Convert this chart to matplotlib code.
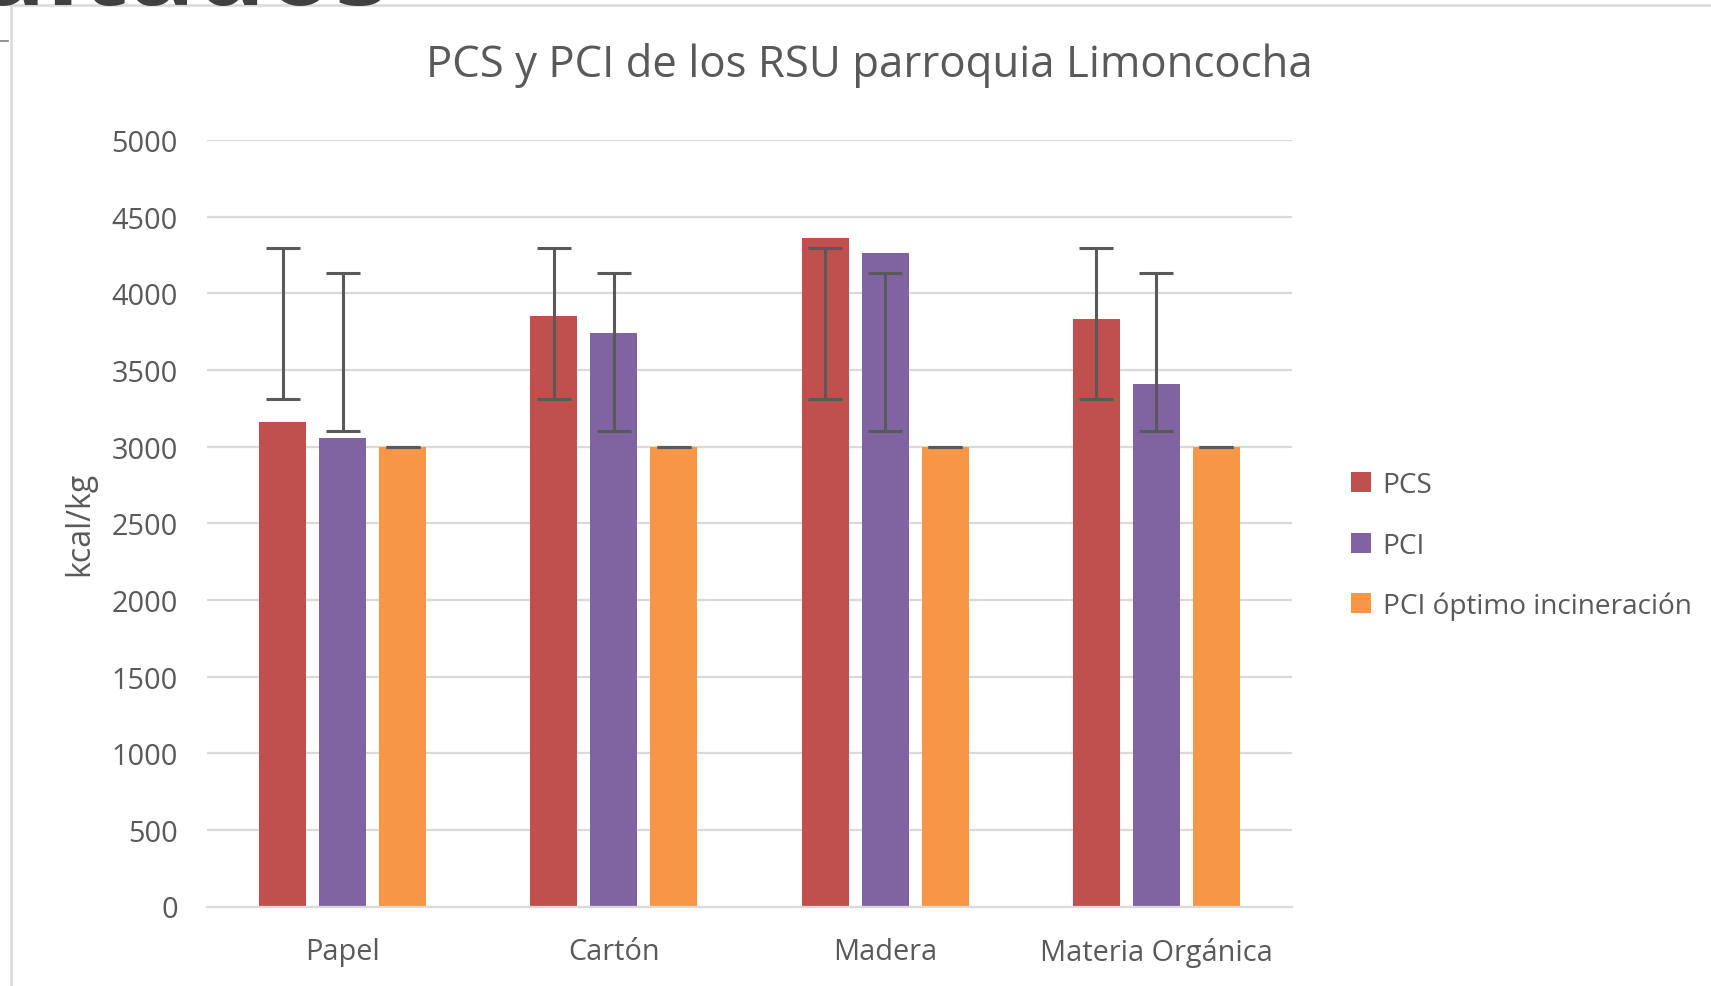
import numpy as np
import matplotlib.pyplot as plt

plt.rcParams['font.family'] = ['Open Sans', 'DejaVu Sans']

# Datos
categorias = ['Papel', 'Cartón', 'Madera', 'Materia Orgánica']
series = ['PCS', 'PCI', 'PCI óptimo incineración']
pcs = [3158, 3855, 4362, 3834]
pci = [3054, 3741, 4260, 3407]
pci_optimo = [3000, 3000, 3000, 3000]

# Barras de error (límite inferior y superior)
pcs_err_bajo = [3308, 3308, 3308, 3308]
pcs_err_alto = [4297, 4297, 4297, 4297]
pci_err_bajo = [3103, 3103, 3103, 3103]
pci_err_alto = [4130, 4130, 4130, 4130]
opt_err_bajo = [3000, 3000, 3000, 3000]
opt_err_alto = [3000, 3000, 3000, 3000]

colores = ['#C0504D', '#8064A2', '#F79646']
gris = '#595959'
tam = 20.8

fig = plt.figure(figsize=(17.11, 9.87), dpi=100)
ax = fig.add_axes([207 / 1711, 1 - 907.5 / 987, 1085 / 1711, (907.5 - 141) / 987])

x = np.arange(len(categorias))
paso = 0.221
ancho = 0.173
valores = [pcs, pci, pci_optimo]
errores = [(pcs_err_bajo, pcs_err_alto), (pci_err_bajo, pci_err_alto),
           (opt_err_bajo, opt_err_alto)]

for i, (vals, (lo, hi)) in enumerate(zip(valores, errores)):
    pos = x + (i - 1) * paso
    ax.bar(pos, vals, ancho, color=colores[i], label=series[i], zorder=2)
    lo = np.array(lo)
    hi = np.array(hi)
    ax.errorbar(pos, (lo + hi) / 2, yerr=(hi - lo) / 2, fmt='none',
                ecolor=gris, elinewidth=2.2, capsize=12, capthick=2.2, zorder=3)

ax.set_xlim(-0.5, len(categorias) - 0.5)
ax.set_ylim(0, 5000)
ax.set_yticks(np.arange(0, 5001, 500))
ax.yaxis.grid(True, color='#d9d9d9', linewidth=1.6, zorder=0)
ax.set_axisbelow(True)
for s in ['top', 'right', 'left']:
    ax.spines[s].set_visible(False)
ax.spines['bottom'].set_color('#d9d9d9')
ax.spines['bottom'].set_linewidth(1.6)

ax.set_xticks(x)
ax.set_xticklabels(categorias)
ax.tick_params(axis='both', length=0, labelsize=tam, colors=gris)
ax.tick_params(axis='y', pad=21)
ax.tick_params(axis='x', pad=22)

ax.set_ylabel('kcal/kg', fontsize=23, color=gris)
ax.yaxis.set_label_coords(-111 / 1085, 0.5)

fig.text(869 / 1711, 1 - 66 / 987, 'PCS y PCI de los RSU parroquia Limoncocha',
         ha='center', va='center', fontsize=31.5, color=gris)

leg = fig.legend(loc='upper left', bbox_to_anchor=(1326 / 1711, 1 - 447 / 987),
                 frameon=False, fontsize=20.2, handlelength=0.72, handleheight=0.72,
                 handletextpad=0.4, labelspacing=1.15, labelcolor=gris)

# Restos del documento original alrededor del gráfico
fig.text(390 / 1711, 1 - 5 / 987, 'Resultados', ha='right', va='baseline',
         fontsize=80, fontweight='bold', color='#404040')
fig.add_artist(plt.Line2D([10 / 1711, 1], [1 - 5.5 / 987, 1 - 5.5 / 987],
                          color='#d9d9d9', linewidth=1.8))
fig.add_artist(plt.Line2D([10.5 / 1711, 10.5 / 1711], [0, 1 - 5.5 / 987],
                          color='#d9d9d9', linewidth=1.8))
fig.add_artist(plt.Line2D([0, 8 / 1711], [1 - 41.5 / 987, 1 - 41.5 / 987],
                          color='#808080', linewidth=1.2))

fig.savefig('out.png', dpi=100)
